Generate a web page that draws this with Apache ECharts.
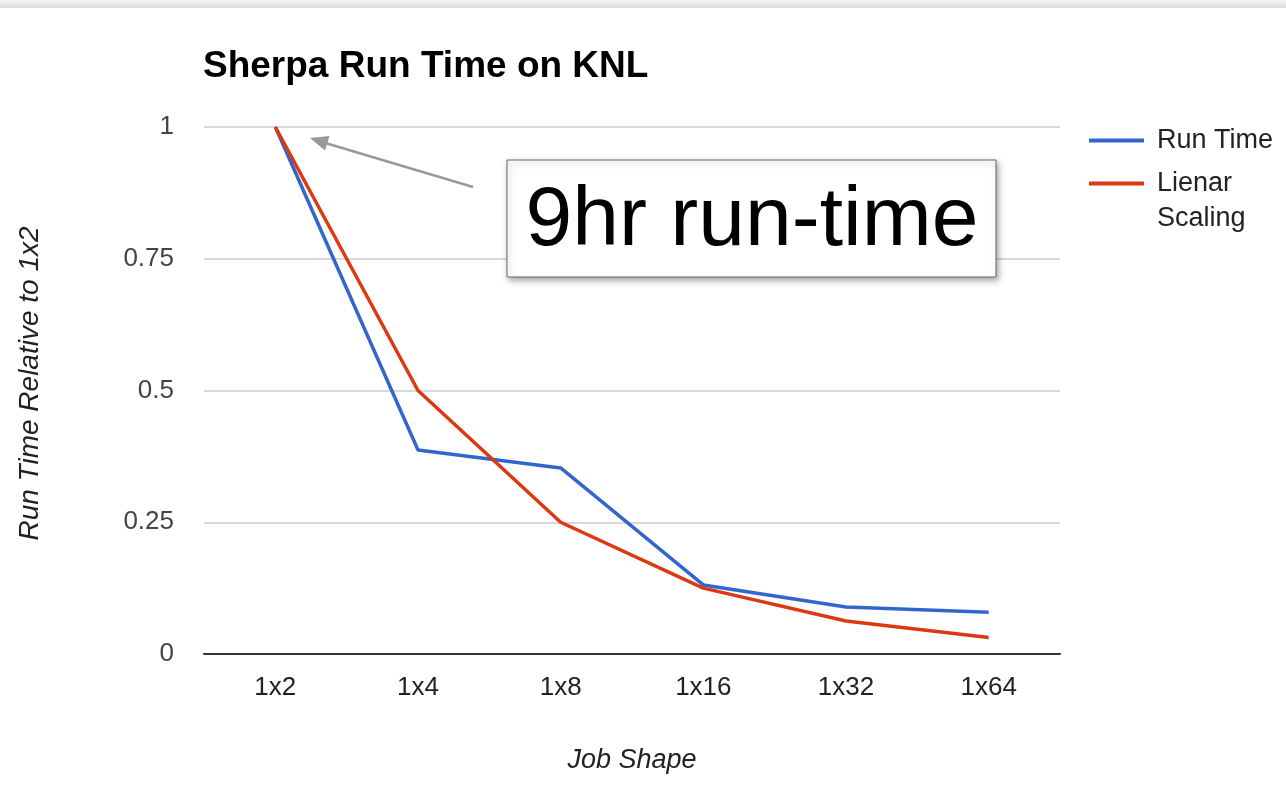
<!DOCTYPE html>
<html>
<head>
<meta charset="utf-8">
<script src="https://cdn.jsdelivr.net/npm/echarts@6/dist/echarts.min.js"></script>
<style>html,body{margin:0;padding:0;background:#fff;}#c{width:1286px;height:792px;}</style>
</head>
<body>
<div id="c"></div>
<script>
const categories = ['1x2', '1x4', '1x8', '1x16', '1x32', '1x64'];
const runTime = [1, 0.387, 0.353, 0.131, 0.089, 0.079];
const linearScaling = [1, 0.5, 0.25, 0.125, 0.0625, 0.03125];
const seriesNames = ['Run Time', 'Lienar Scaling'];
const yTicks = { min: 0, max: 1, interval: 0.25 };

const FONT = '"Liberation Sans", Arial, sans-serif';
const chart = echarts.init(document.getElementById('c'), null, { renderer: 'canvas' });

chart.setOption({
  backgroundColor: '#ffffff',
  animation: false,
  title: {
    text: 'Sherpa Run Time on KNL',
    left: 203, top: 48, padding: 0,
    textStyle: { fontFamily: FONT, fontSize: 37, fontWeight: 'bold', color: '#000' }
  },
  legend: [
    {
      data: [seriesNames[0]],
      orient: 'vertical', left: 1089, top: 127, padding: 0,
      icon: 'rect', itemWidth: 55, itemHeight: 4,
      textStyle: { fontFamily: FONT, fontSize: 27, color: '#222', padding: [0, 0, 0, 8] }
    },
    {
      data: [seriesNames[1]],
      orient: 'vertical', left: 1089, top: 131, padding: 0,
      icon: 'rect', itemWidth: 55, itemHeight: 4,
      formatter: function () { return '\nLienar\nScaling'; },
      textStyle: { fontFamily: FONT, fontSize: 27, lineHeight: 35, color: '#222', padding: [0, 0, 0, 8] }
    }
  ],
  grid: { left: 204, right: 226, top: 127, bottom: 138, containLabel: false },
  xAxis: {
    type: 'category',
    data: categories,
    boundaryGap: true,
    name: 'Job Shape',
    nameLocation: 'middle',
    nameGap: 93,
    nameTextStyle: { fontFamily: FONT, fontSize: 27, fontStyle: 'italic', color: '#222' },
    axisLine: { show: true, lineStyle: { color: '#333', width: 2 } },
    axisTick: { show: false },
    axisLabel: { fontFamily: FONT, fontSize: 26, color: '#222', margin: 21 }
  },
  yAxis: {
    type: 'value',
    min: yTicks.min, max: yTicks.max, interval: yTicks.interval,
    name: 'Run Time Relative to 1x2',
    nameLocation: 'middle',
    nameGap: 160,
    nameTextStyle: { fontFamily: FONT, fontSize: 28, fontStyle: 'italic', color: '#222', padding: [0, 0, 0, 14] },
    axisLine: { show: false },
    axisTick: { show: false },
    splitLine: { show: true, lineStyle: { color: '#cccccc', width: 1.5 } },
    axisLabel: { fontFamily: FONT, fontSize: 26, color: '#444', margin: 30 }
  },
  series: [
    {
      name: seriesNames[0], type: 'line', data: runTime,
      symbol: 'none', color: '#3366cc',
      lineStyle: { width: 3.5, color: '#3366cc' }
    },
    {
      name: seriesNames[1], type: 'line', data: linearScaling,
      symbol: 'none', color: '#dc3912',
      lineStyle: { width: 3.5, color: '#dc3912' }
    }
  ],
  graphic: [
    {
      type: 'rect', left: 0, top: 0, z: 100,
      shape: { width: 1286, height: 8 },
      style: {
        fill: { type: 'linear', x: 0, y: 0, x2: 0, y2: 1,
          colorStops: [{ offset: 0, color: '#f6f6f6' }, { offset: 1, color: '#dcdcdc' }] }
      }
    },
    {
      type: 'line', z: 100,
      shape: { x1: 473, y1: 187, x2: 322, y2: 142 },
      style: { stroke: '#999999', lineWidth: 2.5 }
    },
    {
      type: 'polygon', z: 100,
      shape: { points: [[310, 138], [329.5, 136], [325, 150.5]] },
      style: { fill: '#999999' }
    },
    {
      type: 'rect', z: 100,
      shape: { x: 507, y: 160, width: 489, height: 117 },
      style: {
        fill: '#ffffff', stroke: '#666666', lineWidth: 1,
        shadowBlur: 6, shadowOffsetX: 2, shadowOffsetY: 3, shadowColor: 'rgba(0,0,0,0.35)'
      }
    },
    {
      type: 'text', z: 101,
      x: 752, y: 222,
      style: {
        text: '9hr run-time', fontFamily: FONT, fontSize: 84, fill: '#000',
        align: 'center', verticalAlign: 'middle'
      }
    }
  ]
});
</script>
</body>
</html>
